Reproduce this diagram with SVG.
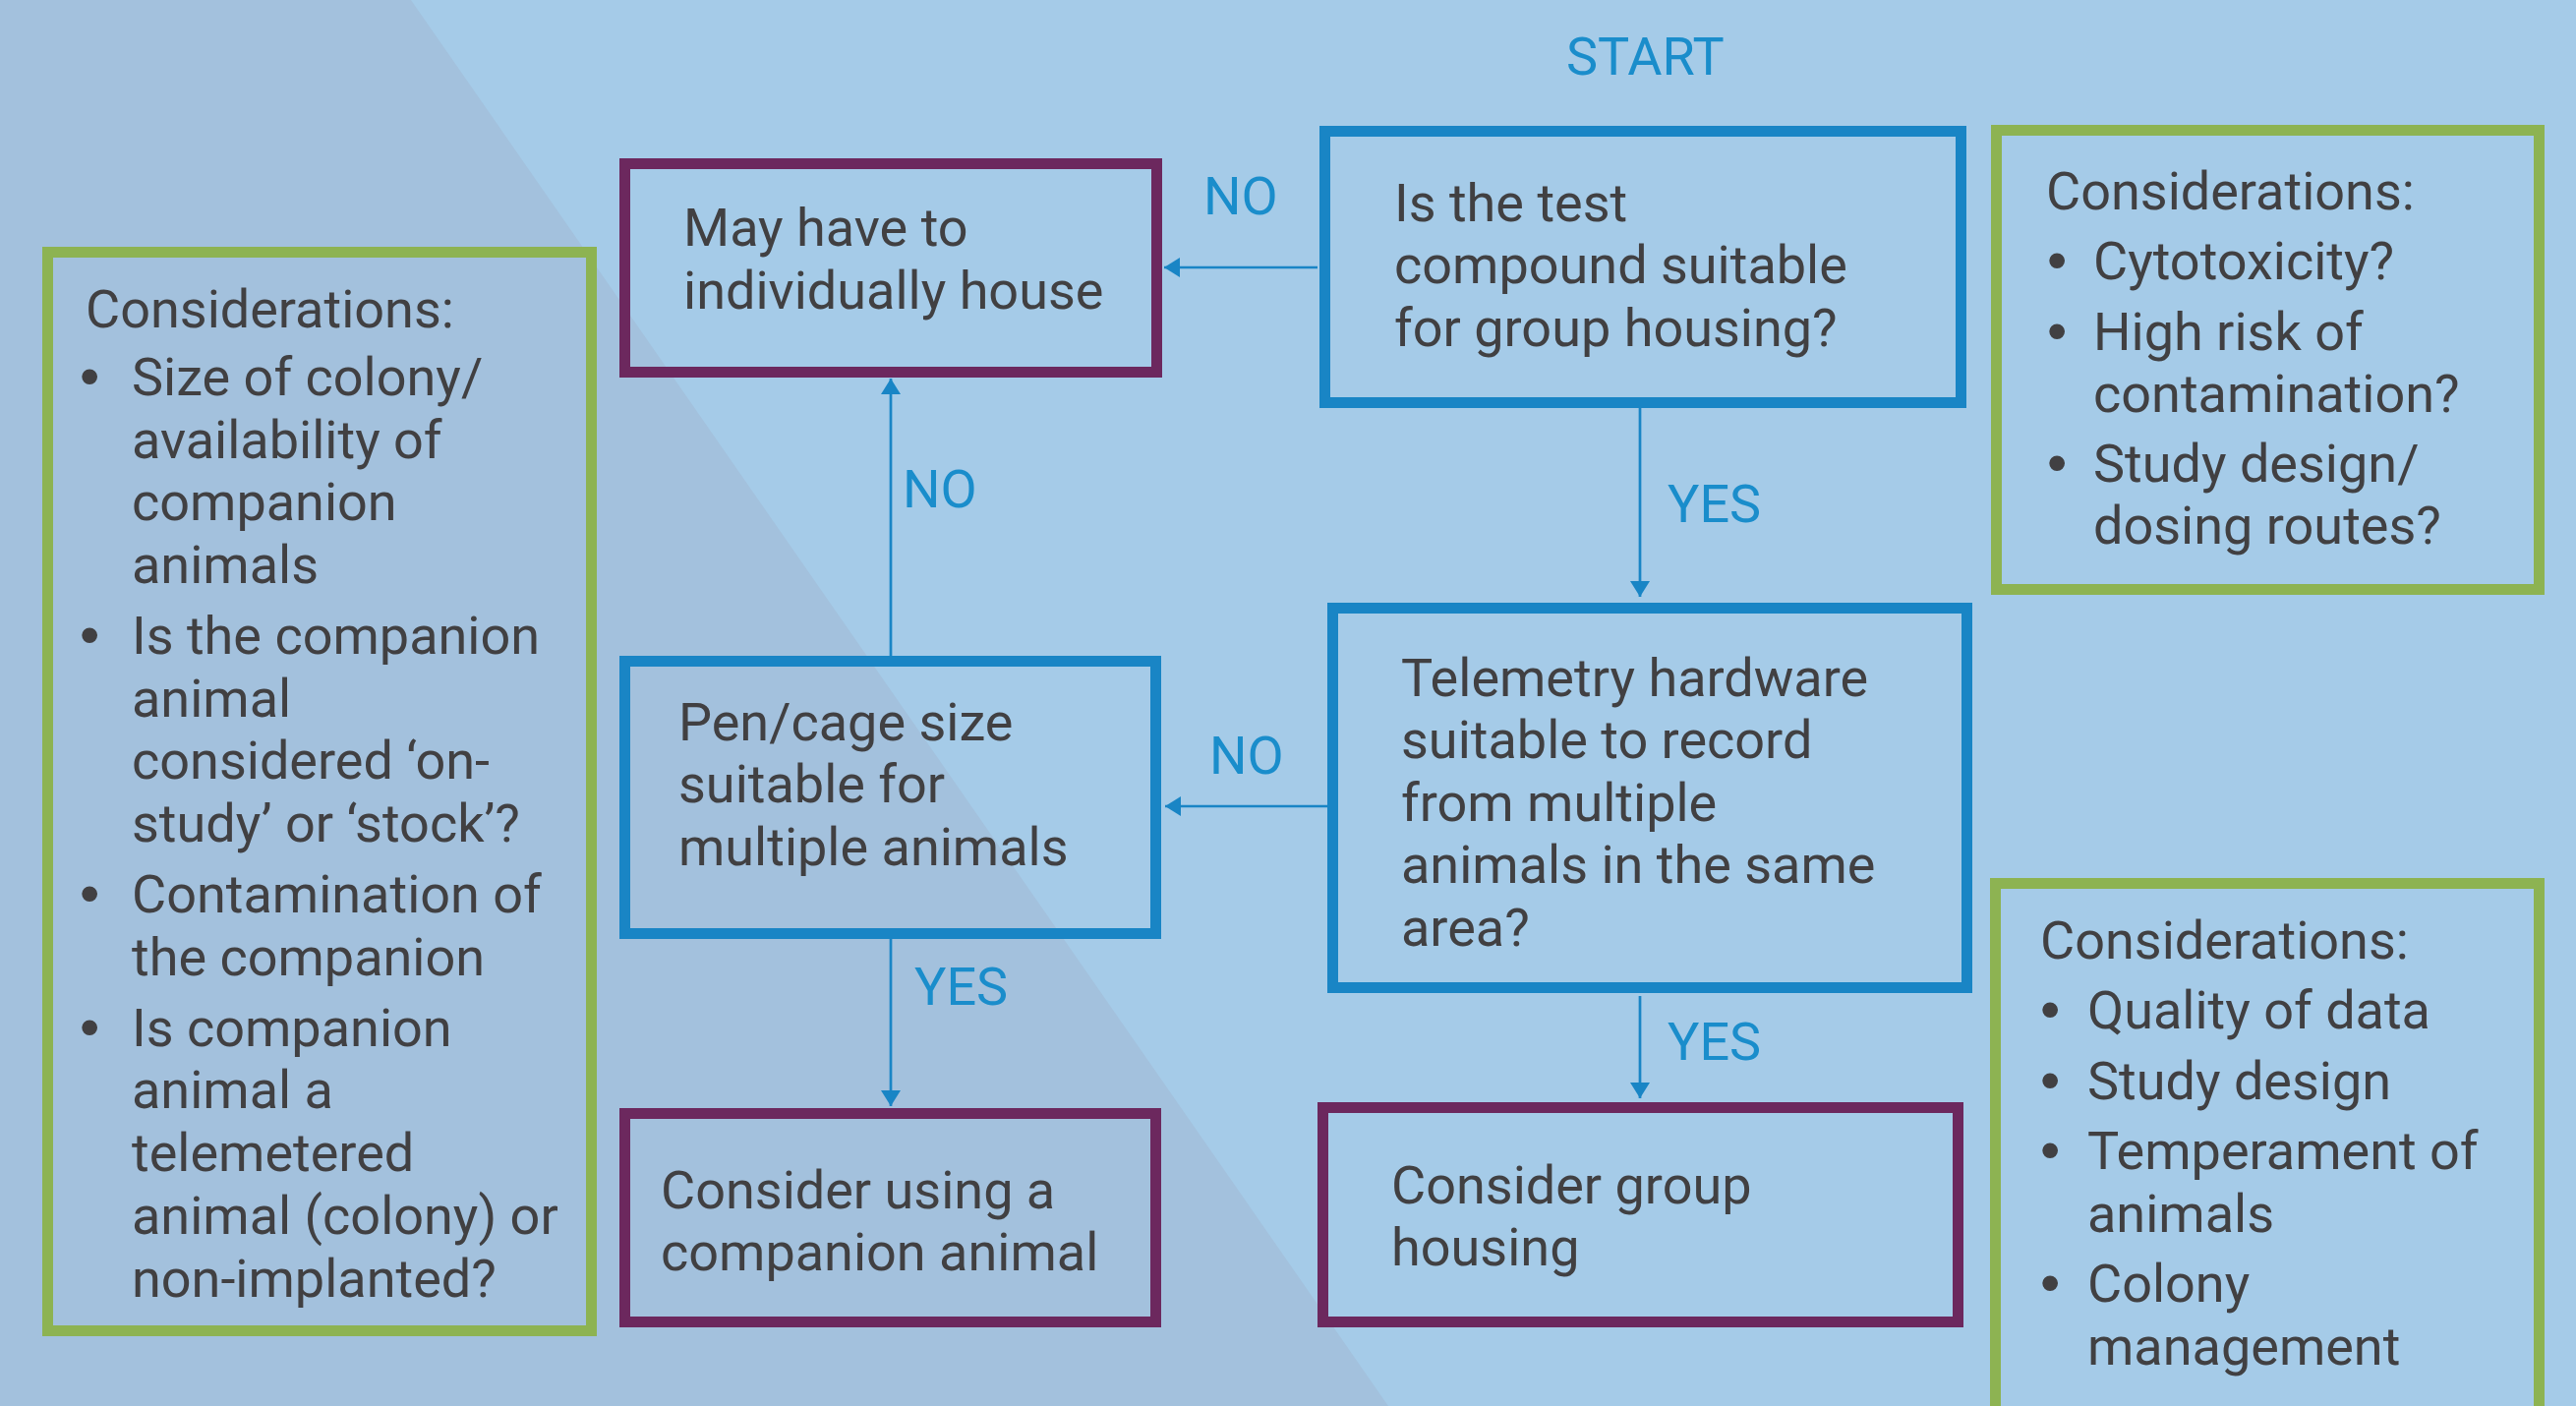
<svg xmlns="http://www.w3.org/2000/svg" width="2620" height="1430" viewBox="0 0 2620 1430">
<style>
.t{font-family:Roboto,"Liberation Sans",Arial,sans-serif;font-size:54px;fill:#414042}
.b{font-family:"Liberation Sans",Arial,sans-serif;font-size:58px;fill:#414042}
.l{font-family:Roboto,"Liberation Sans",Arial,sans-serif;font-size:54px;fill:#1A8DCB}
.blue{fill:none;stroke:#1985C5;stroke-width:11}
.purple{fill:none;stroke:#6C285E;stroke-width:11}
.green{fill:none;stroke:#8DB352;stroke-width:11}
.c{fill:none;stroke:#1985C5;stroke-width:2.7}
</style>
<defs>
<marker id="ah" viewBox="0 0 16 20" refX="16" refY="10" markerWidth="16" markerHeight="20" markerUnits="userSpaceOnUse" orient="auto">
<path d="M0,0 L16,10 L0,20 Z" fill="#1985C5"/>
</marker>
</defs>
<rect x="0" y="0" width="2620" height="1430" fill="#A5CBE8"/>
<polygon points="0,0 418,0 1412,1430 0,1430" fill="#A3C1DD"/>

<g id="connectors">
<path class="c" d="M1340,272 L1184,272" marker-end="url(#ah)"/>
<path class="c" d="M1668,415 L1668,607" marker-end="url(#ah)"/>
<path class="c" d="M1350,820 L1185,820" marker-end="url(#ah)"/>
<path class="c" d="M906,667 L906,385" marker-end="url(#ah)"/>
<path class="c" d="M906,955 L906,1125" marker-end="url(#ah)"/>
<path class="c" d="M1668,1013 L1668,1117" marker-end="url(#ah)"/>
<text class="l" x="1593" y="76">START</text>
<text class="l" x="1224" y="218">NO</text>
<text class="l" x="1696" y="531">YES</text>
<text class="l" x="918" y="516">NO</text>
<text class="l" x="1230" y="787">NO</text>
<text class="l" x="930" y="1022">YES</text>
<text class="l" x="1696" y="1078">YES</text>
</g>

<g id="node-individually">
<rect class="purple" x="635.5" y="166.5" width="541" height="212"/>
<text class="t" x="695" y="250">May have to</text>
<text class="t" x="695" y="314">individually house</text>
</g>

<g id="node-start">
<rect class="blue" x="1347.5" y="133.5" width="647" height="276"/>
<text class="t" x="1418" y="225">Is the test</text>
<text class="t" x="1418" y="288">compound suitable</text>
<text class="t" x="1418" y="352">for group housing?</text>
</g>

<g id="node-considerations-top">
<rect class="green" x="2030.5" y="132.5" width="552" height="467"/>
<text class="t" x="2081" y="213">Considerations:</text>
<text class="b" x="2082" y="284">•</text><text class="t" x="2129" y="284">Cytotoxicity?</text>
<text class="b" x="2082" y="356">•</text><text class="t" x="2129" y="356">High risk of</text>
<text class="t" x="2129" y="419">contamination?</text>
<text class="b" x="2082" y="490">•</text><text class="t" x="2129" y="490">Study design/</text>
<text class="t" x="2129" y="553">dosing routes?</text>
</g>

<g id="node-telemetry">
<rect class="blue" x="1355.5" y="618.5" width="645" height="386"/>
<text class="t" x="1425" y="708">Telemetry hardware</text>
<text class="t" x="1425" y="771">suitable to record</text>
<text class="t" x="1425" y="835">from multiple</text>
<text class="t" x="1425" y="898">animals in the same</text>
<text class="t" x="1425" y="962">area?</text>
</g>

<g id="node-group">
<rect class="purple" x="1345.5" y="1126.5" width="646" height="218"/>
<text class="t" x="1415" y="1224">Consider group</text>
<text class="t" x="1415" y="1287">housing</text>
</g>

<g id="node-considerations-bottom">
<rect class="green" x="2029.5" y="898.5" width="553" height="600"/>
<text class="t" x="2075" y="975">Considerations:</text>
<text class="b" x="2075" y="1046">•</text><text class="t" x="2123" y="1046">Quality of data</text>
<text class="b" x="2075" y="1118">•</text><text class="t" x="2123" y="1118">Study design</text>
<text class="b" x="2075" y="1189">•</text><text class="t" x="2123" y="1189">Temperament of</text>
<text class="t" x="2123" y="1253">animals</text>
<text class="b" x="2075" y="1324">•</text><text class="t" x="2123" y="1324">Colony</text>
<text class="t" x="2123" y="1388">management</text>
</g>

<g id="node-pen">
<rect class="blue" x="635.5" y="672.5" width="540" height="277"/>
<text class="t" x="690" y="753">Pen/cage size</text>
<text class="t" x="690" y="816">suitable for</text>
<text class="t" x="690" y="880">multiple animals</text>
</g>

<g id="node-companion">
<rect class="purple" x="635.5" y="1132.5" width="540" height="212"/>
<text class="t" x="672" y="1229">Consider using a</text>
<text class="t" x="672" y="1292">companion animal</text>
</g>

<g id="node-considerations-left">
<rect class="green" x="48.5" y="256.5" width="553" height="1097"/>
<text class="t" x="87" y="333">Considerations:</text>
<text class="b" x="81" y="402">•</text><text class="t" x="134" y="402">Size of colony/</text>
<text class="t" x="134" y="466">availability of</text>
<text class="t" x="134" y="529">companion</text>
<text class="t" x="134" y="593">animals</text>
<text class="b" x="81" y="665">•</text><text class="t" x="134" y="665">Is the companion</text>
<text class="t" x="134" y="729">animal</text>
<text class="t" x="134" y="792">considered ‘on-</text>
<text class="t" x="134" y="856">study’ or ‘stock’?</text>
<text class="b" x="81" y="928">•</text><text class="t" x="134" y="928">Contamination of</text>
<text class="t" x="134" y="992">the companion</text>
<text class="b" x="81" y="1064">•</text><text class="t" x="134" y="1064">Is companion</text>
<text class="t" x="134" y="1127">animal a</text>
<text class="t" x="134" y="1191">telemetered</text>
<text class="t" x="134" y="1255">animal (colony) or</text>
<text class="t" x="134" y="1319">non-implanted?</text>
</g>
</svg>
